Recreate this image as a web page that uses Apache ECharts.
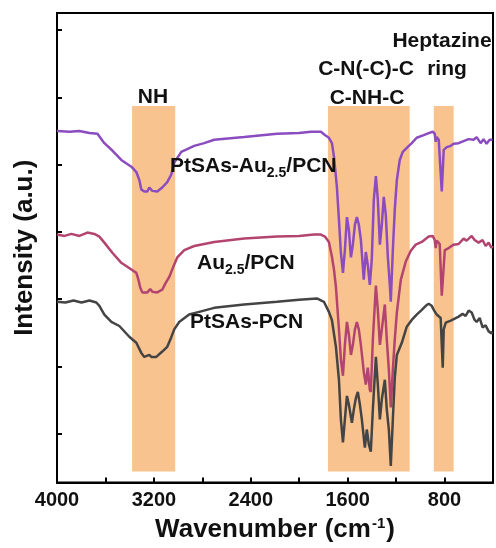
<!DOCTYPE html>
<html>
<head>
<meta charset="utf-8">
<script src="https://cdn.jsdelivr.net/npm/echarts@6/dist/echarts.min.js"></script>
<style>html,body{margin:0;padding:0;background:#fff}#c{width:496px;height:548px}</style>
</head>
<body>
<div id="c"></div>
<script>
// ---- data (wavenumber cm^-1, intensity a.u.) ----
const xTicks = [4000, 3200, 2400, 1600, 800];
const yTickValues = [0, 1, 2, 3, 4, 5, 6];
const bandRanges = [[3380, 3024], [1763, 1088], [889, 725]];
const bandIntensity = [-0.565, 4.874];

const ptsasAuPcn = [
[4000,4.50],[3897,4.49],[3815,4.50],[3732,4.47],[3666,4.46],[3609,4.32],[3543,4.21],[3469,4.07],[3386,3.97],[3345,3.89],
[3320,3.77],[3304,3.63],[3279,3.60],[3254,3.60],[3238,3.66],[3213,3.61],[3172,3.60],[3131,3.66],[3090,3.74],[3057,3.85],
[3032,4.03],[2974,4.19],[2867,4.28],[2785,4.32],[2702,4.37],[2455,4.41],[2183,4.46],[2002,4.47],[1903,4.49],[1821,4.49],
[1788,4.44],[1755,4.40],[1730,4.32],[1713,4.12],[1689,3.67],[1672,3.18],[1656,2.69],[1639,2.39],[1623,2.73],[1606,3.22],
[1590,3.03],[1573,2.62],[1557,2.81],[1540,3.11],[1524,3.22],[1508,3.11],[1491,2.88],[1467,2.29],[1450,2.70],[1434,2.51],
[1417,2.21],[1401,2.59],[1384,3.48],[1367,3.83],[1351,3.48],[1334,2.81],[1318,3.11],[1302,3.52],[1285,3.25],[1268,2.62],
[1252,2.21],[1244,1.96],[1227,2.73],[1211,3.33],[1194,3.77],[1170,4.07],[1145,4.19],[1112,4.25],[1071,4.32],[1030,4.40],
[972,4.44],[931,4.47],[898,4.49],[881,4.46],[873,4.34],[865,4.41],[848,4.37],[832,4.35],[823,3.60],[815,3.60],
[807,4.22],[782,4.26],[749,4.28],[725,4.31],[684,4.32],[643,4.35],[601,4.38],[560,4.37],[535,4.41],[502,4.32],
[478,4.38],[453,4.31],[428,4.37],[412,4.35],[404,4.37]
];
const au25Pcn = [
[4000,2.96],[3938,2.94],[3881,2.97],[3815,2.94],[3749,2.99],[3691,2.97],[3650,2.93],[3609,2.84],[3543,2.69],[3469,2.54],
[3386,2.44],[3345,2.39],[3328,2.29],[3312,2.17],[3296,2.10],[3254,2.10],[3230,2.15],[3213,2.11],[3172,2.10],[3131,2.14],
[3106,2.23],[3073,2.33],[3040,2.48],[3007,2.62],[2949,2.73],[2867,2.79],[2702,2.85],[2455,2.90],[2183,2.93],[2002,2.94],
[1878,2.96],[1821,2.96],[1788,2.93],[1755,2.85],[1730,2.63],[1713,2.44],[1697,2.18],[1672,1.55],[1656,1.10],[1639,0.86],
[1623,1.32],[1606,1.66],[1590,1.47],[1573,1.17],[1557,1.32],[1540,1.55],[1524,1.66],[1508,1.55],[1491,1.32],[1467,0.92],
[1450,0.73],[1434,0.98],[1417,0.65],[1409,0.62],[1392,1.40],[1367,2.20],[1351,1.84],[1334,1.32],[1318,1.55],[1293,1.92],
[1277,1.40],[1260,0.95],[1244,0.39],[1227,0.95],[1211,1.40],[1194,1.80],[1161,2.29],[1120,2.56],[1079,2.72],[1038,2.81],
[988,2.85],[931,2.93],[898,2.94],[881,2.88],[873,2.76],[865,2.87],[840,2.82],[823,2.05],[815,2.05],[798,2.73],
[766,2.76],[725,2.81],[684,2.82],[643,2.90],[618,2.87],[576,2.94],[552,2.88],[519,2.84],[486,2.88],[461,2.79],
[436,2.84],[412,2.76],[404,2.79]
];
const ptsasPcn = [
[4000,1.96],[3930,1.95],[3864,1.98],[3798,1.95],[3732,1.98],[3675,1.95],[3650,1.90],[3609,1.77],[3551,1.66],[3485,1.60],
[3403,1.44],[3345,1.35],[3304,1.20],[3279,1.14],[3238,1.17],[3221,1.14],[3180,1.14],[3131,1.22],[3090,1.29],[3057,1.43],
[3032,1.55],[2991,1.66],[2909,1.77],[2826,1.81],[2702,1.87],[2455,1.92],[2183,1.96],[2002,1.99],[1854,2.01],[1796,1.96],
[1755,1.81],[1730,1.69],[1697,1.29],[1672,0.80],[1656,0.21],[1639,-0.13],[1623,0.21],[1606,0.56],[1590,0.43],[1565,0.16],
[1549,0.36],[1532,0.53],[1516,0.62],[1499,0.43],[1483,0.21],[1458,-0.21],[1442,0.06],[1425,-0.16],[1409,-0.27],[1392,0.36],
[1367,1.14],[1351,0.73],[1334,0.21],[1318,0.51],[1293,0.80],[1277,0.36],[1260,0.06],[1244,-0.48],[1227,0.21],[1211,0.83],
[1194,1.17],[1153,1.35],[1112,1.59],[1071,1.69],[1030,1.77],[988,1.84],[955,1.90],[931,1.93],[906,1.90],[889,1.84],
[865,1.77],[832,1.72],[823,1.32],[815,0.98],[807,1.55],[790,1.65],[749,1.68],[716,1.71],[684,1.74],[651,1.78],
[626,1.75],[601,1.83],[576,1.80],[552,1.69],[535,1.66],[510,1.72],[486,1.58],[461,1.61],[436,1.52],[412,1.49],[404,1.52]
];

const FONT = 'Arial, "Liberation Sans", sans-serif';
const chart = echarts.init(document.getElementById('c'), null, {renderer: 'canvas'});

function lineSeries(name, data, color) {
  return {
    name, type: 'line', data, showSymbol: false, symbol: 'none', z: 3,
    lineStyle: {color, width: 2.5}, animation: false, silent: true
  };
}

const option = {
  animation: false,
  grid: {left: 57, right: 2, top: 13, bottom: 65, show: true, borderColor: '#000', borderWidth: 2},
  xAxis: {
    type: 'value', inverse: true, min: 400, max: 4000, interval: 400,
    axisLine: {show: true, onZero: false, lineStyle: {color: '#000', width: 2}},
    axisTick: {show: true, inside: true, length: 5, lineStyle: {color: '#000', width: 2}},
    splitLine: {show: false},
    axisLabel: {
      margin: 8, color: '#111', fontSize: 20, fontWeight: 'bold', fontFamily: FONT,
      formatter: v => (xTicks.indexOf(v) >= 0 ? String(v) : '')
    },
    name: '{m|Wavenumber (cm}{sup|-1}{m|)}', nameLocation: 'middle', nameGap: 34,
    nameTextStyle: {
      rich: {
        m: {fontSize: 26, fontWeight: 'bold', fontFamily: FONT, color: '#111'},
        sup: {fontSize: 15, fontWeight: 'bold', fontFamily: FONT, color: '#111', verticalAlign: 'top', padding: [0, 1, 12, 1]}
      }
    }
  },
  yAxis: {
    type: 'value', min: -0.728, max: 6.256,
    axisLine: {show: true, onZero: false, lineStyle: {color: '#000', width: 2}},
    axisTick: {show: true, inside: true, length: 5, customValues: yTickValues, lineStyle: {color: '#000', width: 2}},
    axisLabel: {show: false},
    splitLine: {show: false},
    name: 'Intensity (a.u.)', nameLocation: 'middle', nameGap: 19,
    nameTextStyle: {fontSize: 26, fontWeight: 'bold', fontFamily: FONT, color: '#111'}
  },
  series: [
    {
      type: 'line', data: [], z: 1, silent: true,
      markArea: {
        silent: true,
        itemStyle: {color: '#F9C390', opacity: 1},
        data: bandRanges.map(b => [{coord: [b[0], bandIntensity[0]]}, {coord: [b[1], bandIntensity[1]]}])
      }
    },
    lineSeries('PtSAs-Au2.5/PCN', ptsasAuPcn, '#8B4CBF'),
    lineSeries('Au2.5/PCN', au25Pcn, '#B3446F'),
    lineSeries('PtSAs-PCN', ptsasPcn, '#444444')
  ],
  graphic: []
};
chart.setOption(option);

const baseTxt = {fontSize: 21, fontWeight: 'bold', fontFamily: FONT, fill: '#111'};
const subTxt = {fontSize: 14, fontWeight: 'bold', fontFamily: FONT, fill: '#111', padding: [14, 0, 0, 0]};
function label(text, x, y, align) {
  return {
    type: 'text', x, y, z: 10, silent: true,
    style: Object.assign({text, align: align || 'center', verticalAlign: 'middle',
      rich: {a: baseTxt, s: subTxt}}, baseTxt)
  };
}
chart.setOption({
  graphic: [
    label('NH', 153, 97),
    label('Heptazine', 442, 41),
    label('C-N(-C)-C', 366, 69),
    label('ring', 447, 69),
    label('C-NH-C', 367, 98),
    label('{a|PtSAs-Au}{s|2.5}{a|/PCN}', 170, 166, 'left'),
    label('{a|Au}{s|2.5}{a|/PCN}', 197, 263, 'left'),
    label('PtSAs-PCN', 190, 322, 'left')
  ]
});
</script>
</body>
</html>
